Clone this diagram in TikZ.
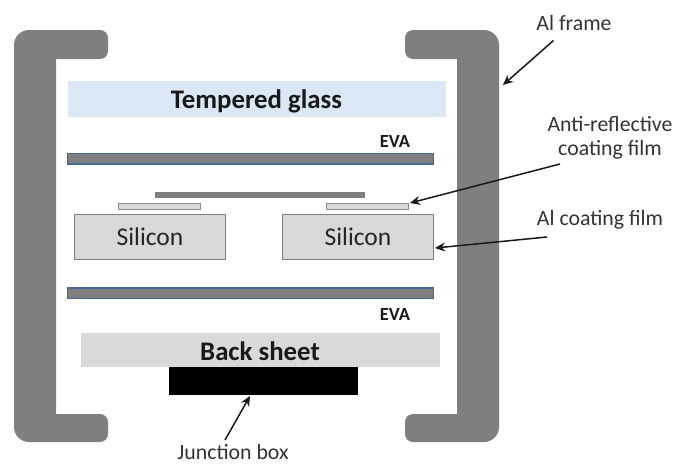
\documentclass[tikz,border=0pt]{standalone}
\usepackage{fontspec}
\setmainfont{Carlito}
\usetikzlibrary{arrows.meta}
\definecolor{framegray}{HTML}{7F7F7F}
\definecolor{glassblue}{HTML}{DAE7F5}
\definecolor{sheetgray}{HTML}{D9D9D9}
\definecolor{evablue}{HTML}{44689A}
\definecolor{labelgray}{HTML}{333333}
\tikzset{
  framepart/.style={fill=framegray,draw=none},
  layer/.style={anchor=north west,inner sep=0pt,outer sep=0pt},
  evabar/.style={layer,fill=framegray,draw=evablue,line width=1.2pt,minimum width=366pt,minimum height=10.5pt},
  silbox/.style={layer,fill=sheetgray,draw=framegray,line width=1.2pt,minimum width=151pt,minimum height=45pt,font=\fontsize{25.5}{25.5}\selectfont,text=black!85},
  thinfilm/.style={layer,fill=sheetgray,draw=gray!90,line width=1pt,minimum width=82pt,minimum height=6pt},
  boldlabel/.style={font=\bfseries\fontsize{26.8}{26.8}\selectfont,text=black!90,inner sep=0pt},
  evalabel/.style={font=\bfseries\fontsize{18.5}{18.5}\selectfont,text=black!90,inner sep=0pt},
  callout/.style={font=\fontsize{21.8}{24}\selectfont,text=labelgray,inner sep=0pt,align=center},
  pointer/.style={-{Stealth[length=10pt,width=9pt]},line width=1.5pt,black!90}
}
\begin{document}
\begin{tikzpicture}[x=1pt,y=-1pt]
\useasboundingbox (0,0) rectangle (675,464);
% left frame
\path[framepart,rounded corners=15pt] (60,30) -- (14,30) -- (14,442) -- (60,442)
  [rounded corners=8pt] -- (108,442) -- (108,414) [sharp corners] -- (56,414) -- (56,59)
  [rounded corners=8pt] -- (108,59) -- (108,30) -- cycle;
% right frame
\path[framepart,rounded corners=15pt] (453,30) -- (499,30) -- (499,442) -- (453,442)
  [rounded corners=8pt] -- (405,442) -- (405,414) [sharp corners] -- (457,414) -- (457,59)
  [rounded corners=8pt] -- (405,59) -- (405,30) -- cycle;
% layers
\node[layer,fill=glassblue,minimum width=378pt,minimum height=36pt] (glass) at (68,81) {};
\node[boldlabel] (glasslabel) at (256.5,101) {Tempered glass};
\node[evabar] (evatop) at (67.5,153.5) {};
\node[evalabel] (evatoplabel) at (395,141) {EVA};
\node[layer,fill=framegray,minimum width=210pt,minimum height=6.5pt] (ribbon) at (155,191.5) {};
\node[thinfilm] (filmleft) at (118.5,203.5) {};
\node[thinfilm] (filmright) at (326.5,203.5) {};
\node[silbox] (silleft) at (74.5,214.5) {Silicon};
\node[silbox] (silright) at (282.5,214.5) {Silicon};
\node[evabar] (evabottom) at (67.5,288) {};
\node[evalabel] (evabottomlabel) at (395,314) {EVA};
\node[layer,fill=sheetgray,minimum width=359pt,minimum height=34pt] (backsheet) at (81,333) {};
\node[boldlabel] (backlabel) at (260,351) {Back sheet};
\node[layer,fill=black,minimum width=189pt,minimum height=28pt] (jbox) at (169,367) {};
% callouts
\node[callout] (framelabel) at (574,23) {Al frame};
\node[callout] (arlabel) at (610,138) {Anti-reflective\\coating film};
\node[callout] (coatlabel) at (600,220) {Al coating film};
\node[callout] (jboxlabel) at (233,452.5) {Junction box};
\coordinate (frameend) at (503,85);
\coordinate (framestart) at (553.5,40.5);
\coordinate (arend) at (410,203);
\coordinate (arstart) at (560,164);
\coordinate (coatend) at (435,248);
\coordinate (coatstart) at (547,237);
\coordinate (jend) at (250,396);
\coordinate (jstart) at (225,440);
\draw[pointer] (framestart) -- (frameend);
\draw[pointer] (arstart) -- (arend);
\draw[pointer] (coatstart) -- (coatend);
\draw[pointer] (jstart) -- (jend);
\end{tikzpicture}
\end{document}
